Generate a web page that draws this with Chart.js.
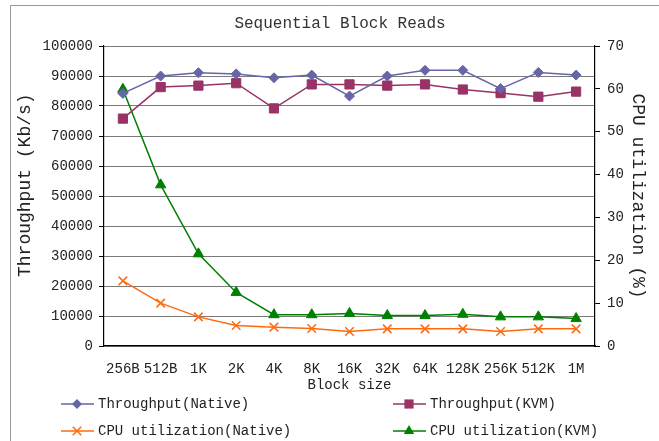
<!DOCTYPE html>
<html>
<head>
<meta charset="utf-8">
<script src="https://cdn.jsdelivr.net/npm/chart.js@4/dist/chart.umd.min.js"></script>
<style>
  html, body { margin: 0; padding: 0; background: #fff; }
  #wrap { width: 659px; height: 441px; }
</style>
</head>
<body>
<div id="wrap"><canvas id="myChart" width="659" height="441"></canvas></div>
<script>
const blockSizes = ['256B', '512B', '1K', '2K', '4K', '8K', '16K', '32K', '64K', '128K', '256K', '512K', '1M'];
const throughputNative = [84200, 90000, 91100, 90700, 89400, 90300, 83300, 90000, 91900, 91900, 85800, 91200, 90300];
const throughputKvm = [75800, 86300, 86800, 87600, 79200, 87200, 87200, 86800, 87200, 85500, 84300, 83100, 84800];
const cpuNative = [15.2, 10.0, 6.8, 4.8, 4.4, 4.1, 3.4, 4.0, 4.0, 4.0, 3.4, 4.0, 4.0];
const cpuKvm = [59.9, 37.6, 21.5, 12.5, 7.3, 7.3, 7.6, 7.1, 7.1, 7.4, 6.8, 6.8, 6.4];

const FONT = '"Liberation Mono", "DejaVu Sans Mono", monospace';
const TITLE = 'Sequential Block Reads';

// marker used by the legend below (same shapes as the chart points)
function marker(ctx, style, x, y, r, color) {
    ctx.save();
    ctx.fillStyle = color;
    ctx.strokeStyle = color;
    ctx.lineWidth = 1.5;
    ctx.beginPath();
    if (style === 'rectRot') {
        ctx.moveTo(x, y - r); ctx.lineTo(x + r, y); ctx.lineTo(x, y + r); ctx.lineTo(x - r, y);
        ctx.closePath(); ctx.fill();
    } else if (style === 'rect') {
        const s = r * Math.SQRT1_2;
        ctx.rect(x - s, y - s, 2 * s, 2 * s); ctx.fill();
    } else if (style === 'triangle') {
        ctx.moveTo(x, y - r); ctx.lineTo(x + r * 0.87, y + r * 0.5); ctx.lineTo(x - r * 0.87, y + r * 0.5);
        ctx.closePath(); ctx.fill();
    } else {
        const s = r * Math.SQRT1_2;
        ctx.moveTo(x - s, y - s); ctx.lineTo(x + s, y + s);
        ctx.moveTo(x + s, y - s); ctx.lineTo(x - s, y + s);
        ctx.stroke();
    }
    ctx.restore();
}

// text start of each legend entry
const legendPos = [[98, 404], [430, 404], [98, 431], [430, 431]];

const frameAndLegend = {
    id: 'frameAndLegend',
    beforeDraw(chart) {
        // outer frame, cut by the picture edges on the right and bottom
        const ctx = chart.ctx;
        ctx.save();
        ctx.strokeStyle = '#999';
        ctx.lineWidth = 1;
        ctx.beginPath();
        ctx.moveTo(10.5, chart.height + 5);
        ctx.lineTo(10.5, 5.5);
        ctx.lineTo(chart.width + 5, 5.5);
        ctx.stroke();
        ctx.fillStyle = '#333';
        ctx.font = '16px ' + FONT;
        ctx.textAlign = 'center';
        ctx.textBaseline = 'middle';
        ctx.fillText(TITLE, 340, 24);
        ctx.restore();
    },
    afterDraw(chart) {
        const ctx = chart.ctx;
        chart.data.datasets.forEach((ds, i) => {
            const [x, y] = legendPos[i];
            ctx.save();
            ctx.strokeStyle = ds.borderColor;
            ctx.lineWidth = 1.5;
            ctx.beginPath();
            ctx.moveTo(x - 37, y);
            ctx.lineTo(x - 4, y);
            ctx.stroke();
            marker(ctx, ds.pointStyle, x - 21, y, ds.pointRadius, ds.borderColor);
            ctx.fillStyle = '#222';
            ctx.font = '14px ' + FONT;
            ctx.textBaseline = 'middle';
            ctx.fillText(ds.label, x, y);
            ctx.restore();
        });
    }
};

function makeSet(label, data, color, style, radius, axis) {
    return {
        label: label,
        data: data,
        yAxisID: axis,
        borderColor: color,
        backgroundColor: color,
        borderWidth: 1.5,
        pointStyle: style,
        pointRadius: radius,
        pointHoverRadius: radius,
        pointBorderWidth: style === 'crossRot' ? 1.5 : 1,
        tension: 0
    };
}

new Chart(document.getElementById('myChart'), {
    type: 'line',
    data: {
        labels: blockSizes,
        datasets: [
            makeSet('Throughput(Native)', throughputNative, '#6666a6', 'rectRot', 5, 'y'),
            makeSet('Throughput(KVM)', throughputKvm, '#993366', 'rect', 6.5, 'y'),
            makeSet('CPU utilization(Native)', cpuNative, '#ff6a10', 'crossRot', 6, 'y1'),
            makeSet('CPU utilization(KVM)', cpuKvm, '#008000', 'triangle', 6, 'y1')
        ]
    },
    plugins: [frameAndLegend],
    options: {
        responsive: false,
        animation: false,
        layout: { padding: { top: 46, left: 0, right: 0, bottom: 0 } },
        plugins: {
            legend: { display: false },
            tooltip: { enabled: false },
            title: { display: false }
        },
        scales: {
            x: {
                offset: true,
                grid: { display: false, drawTicks: false },
                border: { color: '#000', width: 1.2 },
                ticks: {
                    color: '#222', padding: 15, autoSkip: false, maxRotation: 0,
                    font: { family: FONT, size: 14 }
                },
                title: {
                    display: true, text: 'Block size', color: '#222',
                    font: { family: FONT, size: 14 }, padding: { top: 0, bottom: 47.6 }
                },
                afterFit(scale) { scale.height = 95; }
            },
            y: {
                position: 'left',
                min: 0, max: 100000,
                ticks: {
                    stepSize: 10000, color: '#222', padding: 6, font: { family: FONT, size: 14 },
                    callback: (v) => String(v)
                },
                grid: { color: '#7a7a7a', tickLength: 5, tickColor: '#000' },
                border: { color: '#000', width: 1.2 },
                title: {
                    display: true, text: '  Throughput (Kb/s)', color: '#222',
                    font: { family: FONT, size: 18 }, padding: { top: 14, bottom: 0 }
                },
                afterFit(scale) { scale.width = 104; }
            },
            y1: {
                position: 'right',
                min: 0, max: 70,
                ticks: { stepSize: 10, color: '#222', padding: 7, font: { family: FONT, size: 14 } },
                grid: { drawOnChartArea: false, tickLength: 5, color: '#000' },
                border: { color: '#000', width: 1.2 },
                title: {
                    display: true, text: 'CPU utilization (%)', color: '#222',
                    font: { family: FONT, size: 18 }, padding: { top: 10, bottom: 0 }
                },
                afterFit(scale) { scale.width = 64; }
            }
        }
    }
});
</script>
</body>
</html>
